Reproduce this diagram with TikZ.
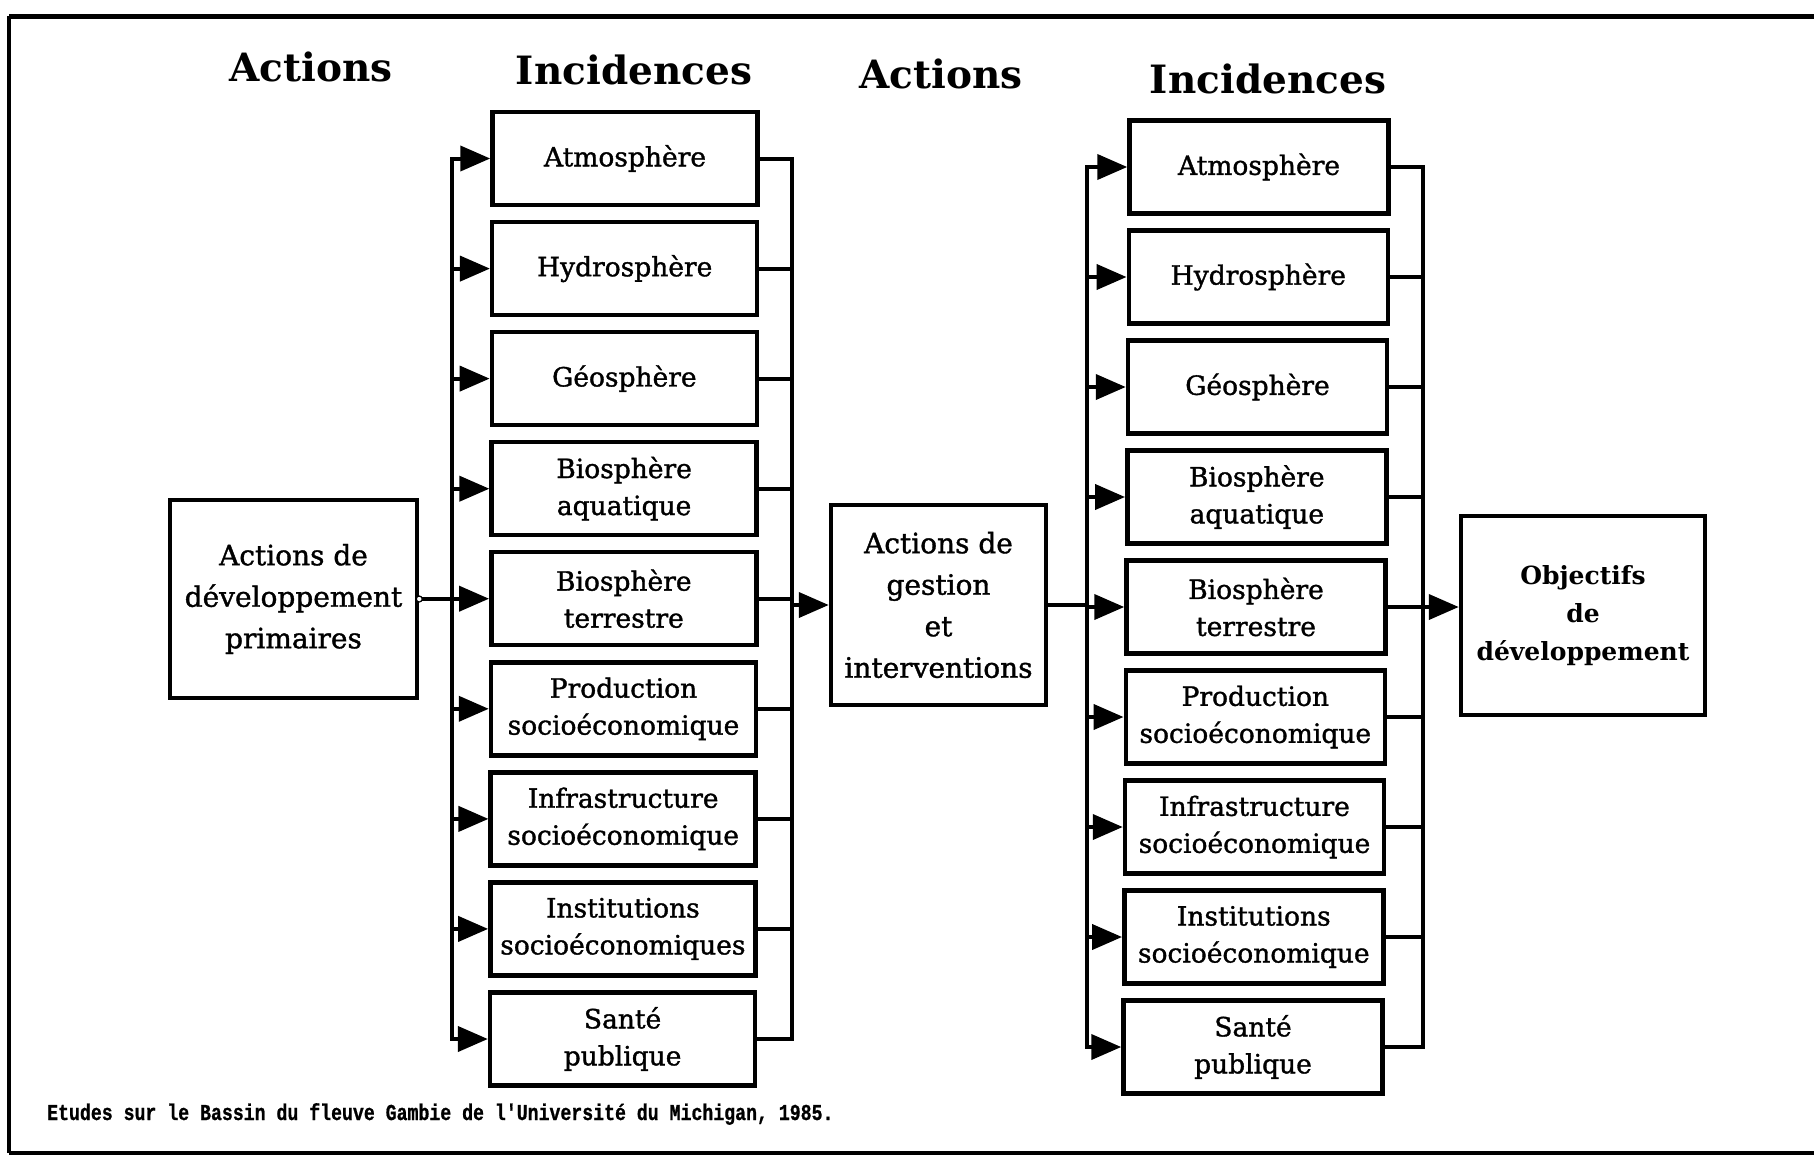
\documentclass[tikz,border=0pt]{standalone}
\usepackage{fontspec}
\setmainfont{DejaVu Serif}
\newfontfamily\boxfont[FakeBold=1.3]{DejaVu Serif}
\newfontfamily\notefont[FakeBold=1]{Liberation Mono}
\usetikzlibrary{arrows.meta}

\begin{document}
\begin{tikzpicture}[x=1pt,y=-1pt,
  incbox/.style={draw, line width=4.5pt, minimum width=265pt, minimum height=93pt,
    inner sep=0pt, align=center, font=\boxfont\fontsize{26.5}{37}\selectfont},
  incboxr/.style={incbox, minimum width=259pt},
  bigbox/.style={draw, line width=4.5pt, inner sep=0pt, align=center,
    font=\boxfont\fontsize{28}{41.5}\selectfont},
  heading/.style={anchor=base, font=\fontsize{39}{40}\selectfont\bfseries},
  wire/.style={line width=4pt, line cap=rect},
  feed/.style={line width=4pt, -{Triangle[length=30pt,width=25pt]}}]
\useasboundingbox (0,0) rectangle (1814,1162);

% outer frame (open on the right)
\draw[line width=5pt] (1814,16) -- (9,16);
\draw[line width=3.5pt] (9,16) -- (9,1153);
\draw[line width=4pt] (9,1153) -- (1814,1153);

% column headings
\node[heading] (h1) at (311,81)  {Actions};
\node[heading] (h2) at (634,84)  {Incidences};
\node[heading] (h3) at (941,88)  {Actions};
\node[heading] (h4) at (1268,93) {Incidences};

% primary development actions
\node[bigbox, minimum width=247pt, minimum height=198pt] (S) at (293.5,599)
  {Actions de\\développement\\primaires};

% first set of incidences
\node[incbox] (L1) at (625.0,158.5) {Atmosphère};
\node[incbox] (L2) at (624.7,268.6) {Hydrosphère};
\node[incbox] (L3) at (624.4,378.6) {Géosphère};
\node[incbox] (L4) at (624.1,488.7) {Biosphère\\aquatique};
\node[incbox] (L5) at (623.8,598.7) {Biosphère\\terrestre};
\node[incbox] (L6) at (623.5,708.8) {Production\\socioéconomique};
\node[incbox] (L7) at (623.2,818.9) {Infrastructure\\socioéconomique};
\node[incbox] (L8) at (622.9,928.9) {Institutions\\socioéconomiques};
\node[incbox] (L9) at (622.6,1039.0) {Santé\\publique};

% management actions
\node[bigbox, minimum width=215pt, minimum height=200pt] (M) at (938.5,605)
  {Actions de\\gestion\\et\\interventions};

% second set of incidences
\node[incboxr] (R1) at (1259.0,167) {Atmosphère};
\node[incboxr] (R2) at (1258.3,277) {Hydrosphère};
\node[incboxr] (R3) at (1257.5,387) {Géosphère};
\node[incboxr] (R4) at (1256.8,497) {Biosphère\\aquatique};
\node[incboxr] (R5) at (1256.0,607) {Biosphère\\terrestre};
\node[incboxr] (R6) at (1255.3,717) {Production\\socioéconomique};
\node[incboxr] (R7) at (1254.5,827) {Infrastructure\\socioéconomique};
\node[incboxr] (R8) at (1253.8,937) {Institutions\\socioéconomique};
\node[incboxr] (R9) at (1253.0,1047) {Santé\\publique};

% development objectives
\node[bigbox, minimum width=244pt, minimum height=199pt,
  font=\fontsize{25}{38}\selectfont\bfseries] (O) at (1583,615.5)
  {Objectifs\\de\\développement};

% bus lines
\coordinate (busLa) at (451.5,0);
\coordinate (busLb) at (791.5,0);
\coordinate (busRa) at (1086.5,0);
\coordinate (busRb) at (1422.5,0);

\draw[wire] (L1.west -| busLa) -- (L9.west -| busLa);
\draw[wire] (L1.east -| busLb) -- (L9.east -| busLb);
\draw[wire] (R1.west -| busRa) -- (R9.west -| busRa);
\draw[wire] (R1.east -| busRb) -- (R9.east -| busRb);

\foreach \i in {1,...,9} {
  \draw[feed] (L\i.west -| busLa) -- (L\i.west);
  \draw[wire] (L\i.east) -- (L\i.east -| busLb);
  \draw[feed] (R\i.west -| busRa) -- (R\i.west);
  \draw[wire] (R\i.east) -- (R\i.east -| busRb);
}

% links between the stages
\draw[wire] (S.east) -- (S.east -| busLa);
\draw[line width=1.2pt, fill=white] (S.east) circle (3pt);
\draw[feed] (M.west -| busLb) -- (M.west);
\draw[wire] (M.east) -- (M.east -| busRa);
\draw[feed] (R5.east -| busRb) -- (O.west |- R5.east);

% source note
\node[anchor=base west, inner sep=0pt] (src) at (47,1120)
  {\scalebox{1}[1.25]{\notefont\bfseries\fontsize{18.2}{20}\selectfont
   Etudes sur le Bassin du fleuve Gambie de l'Université du Michigan, 1985.}};
\end{tikzpicture}
\end{document}
